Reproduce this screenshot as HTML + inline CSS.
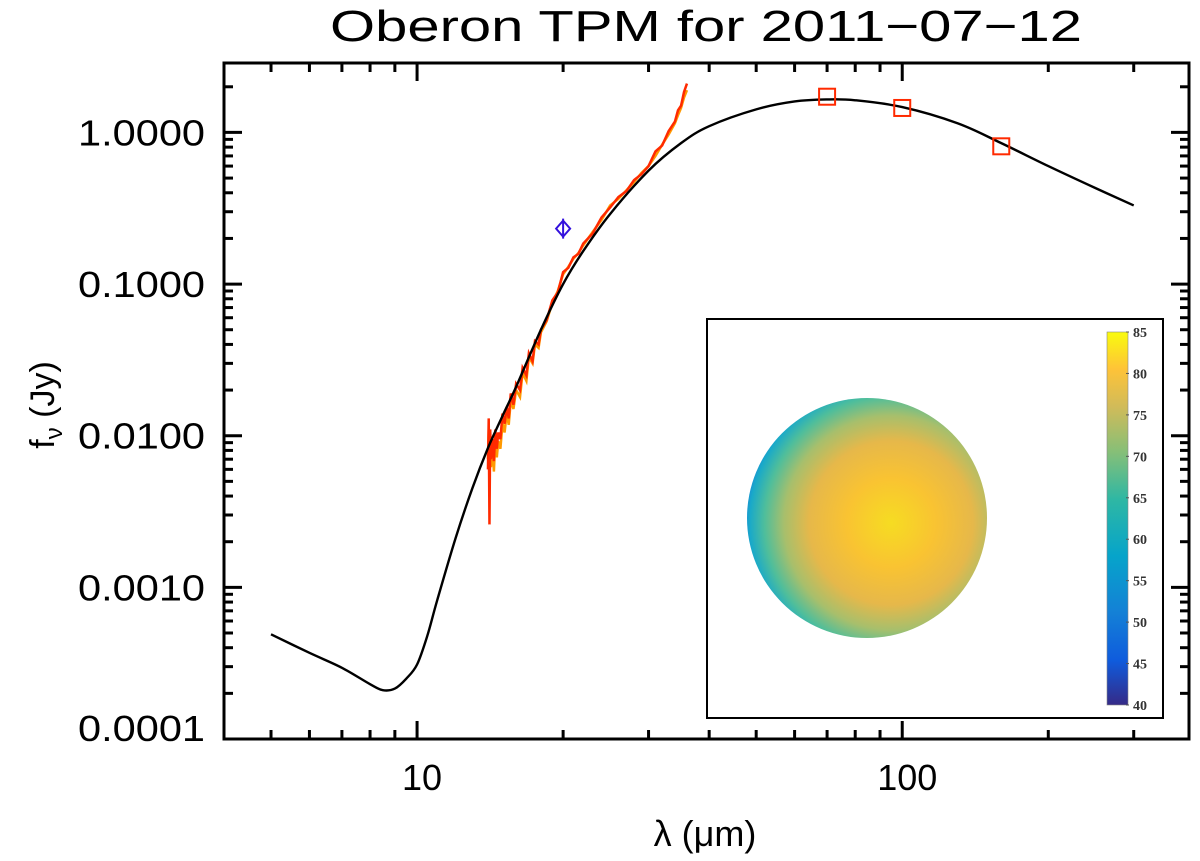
<!DOCTYPE html>
<html><head><meta charset="utf-8"><style>
html,body{margin:0;padding:0;background:#fff;}
svg{display:block;font-family:"Liberation Sans",sans-serif;}
</style></head><body>
<svg id="chart" width="1200" height="861" viewBox="0 0 1200 861">
<defs>
<radialGradient id="sph" cx="0.6" cy="0.52" r="0.62" fx="0.6" fy="0.52">
<stop offset="0" stop-color="#f6dc22"/>
<stop offset="0.3" stop-color="#f9c332"/>
<stop offset="0.55" stop-color="#e6b84a"/>
<stop offset="0.72" stop-color="#a7bf6c"/>
<stop offset="0.85" stop-color="#4fbe9b"/>
<stop offset="0.95" stop-color="#19a9c9"/>
<stop offset="1" stop-color="#1a82d8"/>
</radialGradient>
<linearGradient id="cbar" x1="0" y1="1" x2="0" y2="0">
<stop offset="0" stop-color="#352a87"/>
<stop offset="0.12" stop-color="#0f5cdd"/>
<stop offset="0.25" stop-color="#1481d6"/>
<stop offset="0.4" stop-color="#06a4ca"/>
<stop offset="0.55" stop-color="#2eb7a4"/>
<stop offset="0.68" stop-color="#87bf77"/>
<stop offset="0.8" stop-color="#d1bb59"/>
<stop offset="0.9" stop-color="#fec338"/>
<stop offset="1" stop-color="#f9fb0e"/>
</linearGradient>
</defs>
<text x="330" y="41" font-size="44" textLength="752" lengthAdjust="spacingAndGlyphs">Oberon TPM for 2011−07−12</text>
<g id="axes"></g>
<g id="marks"></g>
<g>
<rect x="707" y="319" width="456" height="399" fill="#fff" stroke="#000" stroke-width="2"/>
<circle cx="867" cy="518" r="120" fill="url(#sph)"/>
<rect x="1107" y="332" width="21" height="373" fill="url(#cbar)" stroke="#888" stroke-width="0.6"/>
<g id="cbticks"></g>
</g>
<text x="705" y="846" font-size="36" text-anchor="middle">λ (μm)</text>
<text transform="translate(54,405) rotate(-90)" font-size="34" text-anchor="middle">f<tspan font-size="24" dy="8">ν</tspan><tspan dy="-8"> (Jy)</tspan></text>
</svg>
<script>
const modelLam=[5,6,7,8,8.5,9,9.5,10,10.5,11,12,13,14,15,16,18,20,22,25,30,35,40,50,60,70,80,100,130,160,200,250,300];
const modelFlux=[4.9e-4,3.7e-4,2.95e-4,2.3e-4,2.1e-4,2.15e-4,2.5e-4,3.1e-4,4.8e-4,8.2e-4,2.1e-3,4.5e-3,8.3e-3,0.0135,0.021,0.05,0.1,0.165,0.29,0.56,0.85,1.1,1.42,1.6,1.65,1.63,1.47,1.15,0.85,0.6,0.43,0.33];
const specLam=[14,14.05,14.1,14.15,14.2,14.3,14.4,14.5,14.6,14.7,14.85,15,15.15,15.3,15.45,15.6,15.8,16,16.3,16.5,16.8,17,17.3,17.5,17.8,18,18.5,19,19.5,20,20.5,21,21.5,22,23,24,25,26,27,28,29,30,31,32,33,34,34.5,35,35.5,36];
const specFlux=[0.006,0.013,0.0026,0.011,0.007,0.0095,0.0068,0.011,0.0082,0.0105,0.0095,0.014,0.012,0.0155,0.013,0.019,0.016,0.022,0.02,0.028,0.025,0.035,0.031,0.042,0.04,0.05,0.058,0.078,0.088,0.12,0.128,0.15,0.158,0.185,0.215,0.275,0.32,0.375,0.41,0.485,0.53,0.6,0.75,0.82,1.02,1.18,1.4,1.5,1.85,2.1];
const specFlux2=[0.007,0.011,0.0045,0.009,0.0062,0.0088,0.0058,0.0098,0.0072,0.0092,0.0082,0.012,0.0105,0.014,0.0118,0.017,0.015,0.02,0.018,0.026,0.023,0.033,0.03,0.04,0.038,0.048,0.057,0.075,0.09,0.116,0.13,0.147,0.16,0.18,0.22,0.265,0.33,0.365,0.415,0.47,0.54,0.6,0.7,0.83,0.97,1.15,1.3,1.45,1.7,1.9];
const photLam=[70,100,160];
const photFlux=[1.72,1.45,0.81];
const midirLam=[20];
const midirFlux=[0.232];
const xMajor=[10,100];
const xMajorLabels=["10","100"];
const yMajor=[1e-4,1e-3,1e-2,1e-1,1];
const yMajorLabels=["0.0001","0.0010","0.0100","0.1000","1.0000"];
const cbVals=[40,45,50,55,60,65,70,75,80,85];

const X0=224,X1=1189,Y0=63,Y1=739;
const LX0=Math.log10(4),LX1=Math.log10(390);
const LY0=-4.0,LY1=Math.log10(2.87);
const x=v=>X0+(Math.log10(v)-LX0)/(LX1-LX0)*(X1-X0);
const y=v=>Y1-(Math.log10(v)-LY0)/(LY1-LY0)*(Y1-Y0);
const NS="http://www.w3.org/2000/svg";
function mk(tag,attrs,parent){const e=document.createElementNS(NS,tag);for(const k in attrs)e.setAttribute(k,attrs[k]);parent.appendChild(e);return e;}
function smooth(pts){let d=`M${pts[0][0]},${pts[0][1]}`;for(let i=0;i<pts.length-1;i++){const p0=pts[Math.max(0,i-1)],p1=pts[i],p2=pts[i+1],p3=pts[Math.min(pts.length-1,i+2)];
const c1=[p1[0]+(p2[0]-p0[0])/6,p1[1]+(p2[1]-p0[1])/6],c2=[p2[0]-(p3[0]-p1[0])/6,p2[1]-(p3[1]-p1[1])/6];
d+=`C${c1[0]},${c1[1]} ${c2[0]},${c2[1]} ${p2[0]},${p2[1]}`;}return d;}
const axes=document.getElementById('axes'),marks=document.getElementById('marks');
const frame=mk('rect',{x:X0,y:Y0,width:X1-X0,height:Y1-Y0,fill:'none',stroke:'#000','stroke-width':3},axes);


for(let d=1;d<=100;d*=10){for(let m=1;m<10;m++){const v=m*d;if(v<4||v>390)continue;const px=x(v);const L=(m===1)?18:9;
mk('line',{x1:px,y1:Y1,x2:px,y2:Y1-L,stroke:'#000','stroke-width':3},axes);
mk('line',{x1:px,y1:Y0,x2:px,y2:Y0+L,stroke:'#000','stroke-width':3},axes);}}
xMajor.forEach((v,i)=>{const t=mk('text',{x:x(v)+5,y:790,'font-size':36,'text-anchor':'middle'},axes);t.textContent=xMajorLabels[i];

});
for(let e=-4;e<=0;e++){for(let m=1;m<10;m++){const v=m*Math.pow(10,e);if(Math.log10(v)>LY1)continue;const py=y(v);const L=(m===1)?18:9;
mk('line',{x1:X0,y1:py,x2:X0+L,y2:py,stroke:'#000','stroke-width':3},axes);
mk('line',{x1:X1,y1:py,x2:X1-L,y2:py,stroke:'#000','stroke-width':3},axes);}}
yMajor.forEach((v,i)=>{const py=Math.min(y(v),728);const t=mk('text',{x:78,y:py+13,'font-size':36,textLength:127,lengthAdjust:'spacingAndGlyphs'},axes);t.textContent=yMajorLabels[i];

});
const s2=mk('polyline',{points:specLam.map((l,i)=>x(l)+','+y(specFlux2[i])).join(' '),fill:'none',stroke:'#ff9900','stroke-width':2.5},marks);


const s1=mk('polyline',{points:specLam.map((l,i)=>x(l)+','+y(specFlux[i])).join(' '),fill:'none',stroke:'#ff2a00','stroke-width':2.5},marks);


const mdl=mk('path',{d:smooth(modelLam.map((l,i)=>[x(l),y(modelFlux[i])])),fill:'none',stroke:'#000','stroke-width':2.4,'stroke-linejoin':'round'},marks);


photLam.forEach((l,i)=>{const r=mk('rect',{x:x(l)-8,y:y(photFlux[i])-8,width:16,height:16,fill:'none',stroke:'#ff2a00','stroke-width':2},marks);

});
midirLam.forEach((l,i)=>{const cx=x(l),cy=y(midirFlux[i]);
const p=mk('path',{d:`M${cx},${cy-8}L${cx+7},${cy}L${cx},${cy+8}L${cx-7},${cy}Z M${cx},${cy-10}V${cy+10}`,fill:'none',stroke:'#3311dd','stroke-width':2},marks);

});
const cb=document.getElementById('cbticks');const cbY=v=>705-(v-40)/45*373;
cbVals.forEach(v=>{mk('line',{x1:1126,y1:cbY(v),x2:1129,y2:cbY(v),stroke:'#555','stroke-width':1},cb);
const t=mk('text',{x:1133,y:cbY(v)+5,'font-size':14,'font-weight':'bold','font-family':'Liberation Serif, serif',fill:'#333'},cb);t.textContent=v;

});
</script>
</body></html>
